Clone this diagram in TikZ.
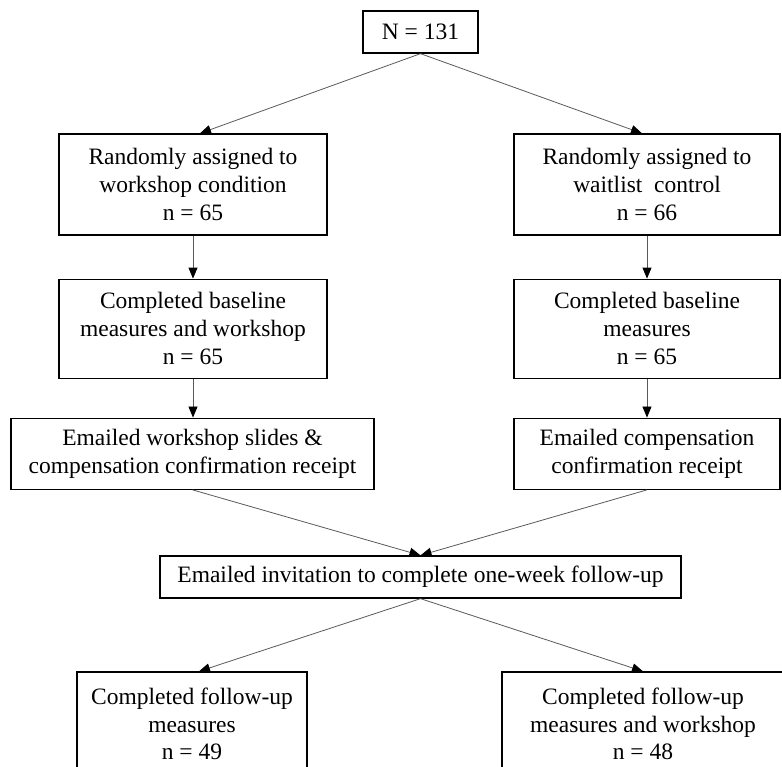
\documentclass[tikz,border=0pt]{standalone}
\usepackage{fontspec}
\setmainfont{Liberation Serif}
\usetikzlibrary{arrows.meta,calc}
\begin{document}
\begin{tikzpicture}[x=1pt,y=-1pt,
  box/.style={draw=black,line width=1.3pt,inner sep=0pt,align=center,
    font=\fontsize{23.5}{27.8}\selectfont},
  conn/.style={draw=black!65,line width=0.8pt,
    -{Triangle[length=11pt,width=9pt,color=black]}},
]
\useasboundingbox (0,0) rectangle (782,766);
\clip (0,0) rectangle (782,766);
\node[box,minimum width=115pt,minimum height=42pt] (n0) at (420.5,32) {N = 131};
\node[box,minimum width=268pt,minimum height=101pt] (a1) at (193,184.5)
  {Randomly assigned to\\workshop condition\\n = 65};
\node[box,minimum width=266pt,minimum height=101pt] (b1) at (647,184.5)
  {Randomly assigned to\\waitlist\ \ control\\n = 66};
\node[box,minimum width=268pt,minimum height=99pt] (a2) at (193,328.75)
  {Completed baseline\\measures and workshop\\n = 65};
\node[box,minimum width=266pt,minimum height=99pt] (b2) at (647,328.75)
  {Completed baseline\\measures\\n = 65};
\node[box,minimum width=363pt,minimum height=71pt] (a3) at (192.5,453.7)
  {Emailed workshop slides \&\\compensation confirmation receipt};
\node[box,minimum width=266pt,minimum height=71pt] (b3) at (647,453.7)
  {Emailed compensation\\confirmation receipt};
\node[box,minimum width=521pt,minimum height=42pt] (m) at (420.5,577)
  {Emailed invitation to complete one-week follow-up};
\node[box,minimum width=230pt,minimum height=104pt] (a4) at (192,724)
  {Completed follow-up\\measures\\n = 49};
\node[box,minimum width=282pt,minimum height=104pt] (b4) at (643,724)
  {Completed follow-up\\measures and workshop\\n = 48};
\draw[conn] (n0.south) -- ($(a1.north)+(7,0)$);
\draw[conn] (n0.south) -- ($(b1.north)+(-5,0)$);
\draw[conn] (a1.south) -- (a2.north);
\draw[conn] (b1.south) -- (b2.north);
\draw[conn] (a2.south) -- (a2.south |- a3.north);
\draw[conn] (b2.south) -- (b3.north);
\draw[conn] (a3.south) -- (m.north);
\draw[conn] (b3.south) -- (m.north);
\draw[conn] (m.south) -- ($(a4.north)+(7,0)$);
\draw[conn] (m.south) -- (b4.north);
\end{tikzpicture}
\end{document}
